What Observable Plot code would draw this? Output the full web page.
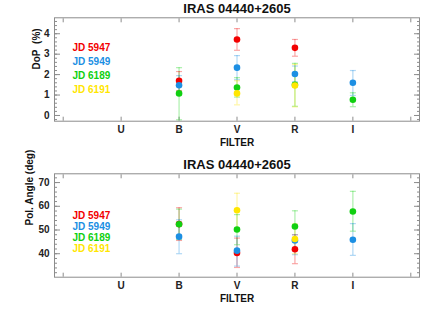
<!DOCTYPE html>
<html>
<head>
<meta charset="utf-8">
<script src="https://cdn.jsdelivr.net/npm/d3@7"></script>
<script src="https://cdn.jsdelivr.net/npm/@observablehq/plot@0.6"></script>
<style>
  html, body { margin: 0; padding: 0; background: #fff; }
  #chart svg { display: block; }
</style>
</head>
<body>
<div id="chart"></div>
<script>
// ---- data ----
const title = "IRAS 04440+2605";
const filters = ["U", "B", "V", "R", "I"];          // plotted at 1..5
const seriesNames = ["JD 5947", "JD 5949", "JD 6189", "JD 6191"];
const seriesColors = ["#f20000", "#1c8fe3", "#10d010", "#ffe600"];

// Degree of polarization (%) per filter U,B,V,R,I
const dopVal = [
  [null, 1.70, 3.72, 3.31, null],
  [null, 1.48, 2.34, 2.03, 1.60],
  [null, 1.08, 1.37, 1.50, 0.77],
  [null, null, 1.08, 1.47, null]
];
const dopLo = [
  [null, 1.22, 3.19, 2.90, null],
  [null, 1.02, 1.75, 1.65, 0.98],
  [null, -0.21, 0.90, 0.45, 0.43],
  [null, null, 0.52, 0.42, null]
];
const dopHi = [
  [null, 2.15, 4.25, 3.72, null],
  [null, 1.95, 2.93, 2.42, 2.20],
  [null, 2.34, 1.85, 2.55, 1.11],
  [null, null, 1.70, 2.50, null]
];

// Polarization angle (deg)
const angVal = [
  [null, 52.5, 40.3, 41.9, null],
  [null, 47.2, 41.3, 45.6, 45.9],
  [null, 52.4, 50.2, 51.5, 57.8],
  [null, null, 58.3, 46.2, null]
];
const angLo = [
  [null, 45.6, 34.2, 35.8, null],
  [null, 40.0, 34.8, 39.6, 39.3],
  [null, 46.0, 43.8, 45.0, 49.5],
  [null, null, 51.0, 40.0, null]
];
const angHi = [
  [null, 59.4, 46.6, 48.0, null],
  [null, 54.3, 47.4, 48.0, 52.7],
  [null, 58.8, 56.5, 58.1, 66.3],
  [null, null, 65.5, 52.6, null]
];

const dopTicks = [0, 1, 2, 3, 4];
const angTicks = [40, 50, 60, 70];

// ---- build rows ----
function rows(val, lo, hi) {
  const out = [];
  seriesNames.forEach((s, si) => {
    filters.forEach((f, fi) => {
      if (val[si][fi] != null) out.push({series: s, color: seriesColors[si], x: fi + 1, v: val[si][fi], lo: lo[si][fi], hi: hi[si][fi]});
    });
  });
  return out;
}

const FONT = "'Liberation Sans', Arial, Helvetica, sans-serif";
const AX = "#8c8c8c";
const capSymbol = {draw(ctx, size) { const w = 3; ctx.moveTo(-w, 0); ctx.lineTo(w, 0); }};

function panel({data, ydomain, yticks, minorStep, ylabel, ylabelDx, legendDy0, legendStep}) {
  const [y0, y1] = ydomain;
  const minor = d3.range(Math.ceil(y0 / minorStep) * minorStep, y1, minorStep).map(v => +v.toFixed(6));
  const xAll = d3.range(0, 7);
  const marks = [
    Plot.frame({stroke: AX, strokeWidth: 1}),
    // inward ticks
    Plot.axisY(yticks, {anchor: "left", tickSize: -6, tickFormat: () => "", stroke: AX, label: null}),
    Plot.axisY(yticks, {anchor: "right", tickSize: -6, tickFormat: () => "", stroke: AX, label: null}),
    Plot.axisY(minor, {anchor: "left", tickSize: -3, tickFormat: () => "", stroke: AX, label: null}),
    Plot.axisY(minor, {anchor: "right", tickSize: -3, tickFormat: () => "", stroke: AX, label: null}),
    Plot.axisX(xAll, {anchor: "bottom", tickSize: -4, tickFormat: () => "", stroke: AX, label: null}),
    Plot.axisX(xAll, {anchor: "top", tickSize: -4, tickFormat: () => "", stroke: AX, label: null}),
    // labels
    Plot.axisY(yticks, {anchor: "left", tickSize: 0, tickPadding: 5, fontSize: 10, fontWeight: "bold", fill: "#222", label: null}),
    Plot.axisX(filters.map((f, i) => i + 1), {anchor: "bottom", tickSize: 0, tickPadding: 5, fontSize: 10, fontWeight: "bold", fill: "#222", tickFormat: d => filters[d - 1], label: null}),
    Plot.text([title], {frameAnchor: "top", lineAnchor: "middle", dy: -9.3, fontSize: 13, fontWeight: "bold", fill: "#111"}),
    Plot.text(["FILTER"], {frameAnchor: "bottom", lineAnchor: "middle", dy: 21.3, fontSize: 10, fontWeight: "bold", fill: "#111"}),
    Plot.text([ylabel], {frameAnchor: "left", lineAnchor: "middle", rotate: -90, dx: ylabelDx, fontSize: 10, fontWeight: "bold", fill: "#111"}),
    // error bars
    Plot.ruleX(data, {x: "x", y1: "lo", y2: "hi", stroke: "color", strokeOpacity: 0.35, strokeWidth: 1.2}),
    Plot.dot(data, {x: "x", y: "lo", symbol: capSymbol, stroke: "color", strokeOpacity: 0.35, strokeWidth: 1.2, fill: "none"}),
    Plot.dot(data, {x: "x", y: "hi", symbol: capSymbol, stroke: "color", strokeOpacity: 0.35, strokeWidth: 1.2, fill: "none"}),
    Plot.dot(data, {x: "x", y: "v", r: 3.3, fill: "color", stroke: "none"})
  ];
  seriesNames.forEach((s, i) => {
    marks.push(Plot.text([s], {frameAnchor: "top-left", textAnchor: "start", lineAnchor: "middle", dx: 18, dy: legendDy0 + i * legendStep, fontSize: 10, fontWeight: "bold", fill: seriesColors[i]}));
  });
  return Plot.plot({
    width: 436, height: 156,
    marginLeft: 54, marginRight: 17, marginTop: 17.3, marginBottom: 35.3,
    style: {fontFamily: FONT, background: "#fff", overflow: "visible"},
    x: {type: "linear", domain: [-0.15, 6.15], axis: null},
    y: {type: "linear", domain: ydomain, axis: null},
    color: {type: "identity"},
    marks
  });
}

const el = document.getElementById("chart");
el.append(panel({data: rows(dopVal, dopLo, dopHi), ydomain: [-0.28, 4.78], yticks: dopTicks, minorStep: 0.2,
  ylabel: "DoP\u00a0\u00a0(%)", ylabelDx: -17.5, legendDy0: 29.7, legendStep: 14}));
el.append(panel({data: rows(angVal, angLo, angHi), ydomain: [30.1, 73.7], yticks: angTicks, minorStep: 2,
  ylabel: "Pol. Angle (deg)", ylabelDx: -24.7, legendDy0: 42, legendStep: 11}));
</script>
</body>
</html>
